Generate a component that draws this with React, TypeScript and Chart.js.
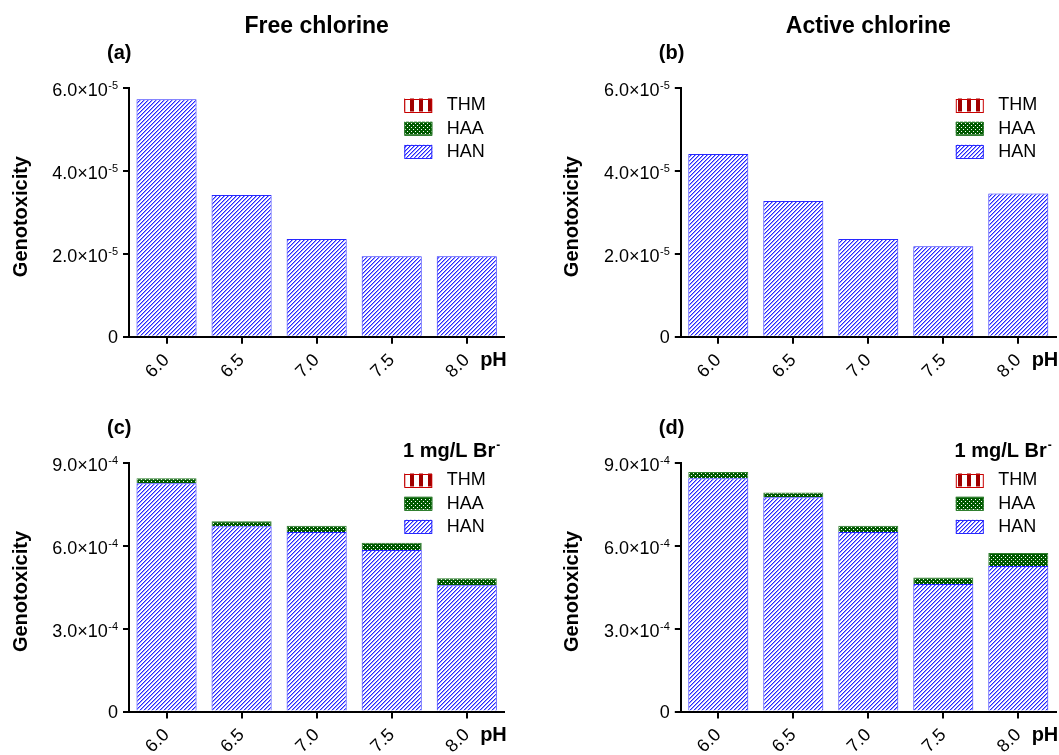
import React, { useEffect, useRef } from "react";
import { Chart, registerables } from "chart.js";
Chart.register(...registerables);

const FONT = "'Liberation Sans', Arial, Helvetica, sans-serif";
Chart.defaults.font.family = FONT;

// ---------- data ----------
const phLabels = ["6.0", "6.5", "7.0", "7.5", "8.0"];

const hanFree = [5.72e-5, 3.41e-5, 2.35e-5, 1.94e-5, 1.94e-5];
const haaFree = [0, 0, 0, 0, 0];
const thmFree = [0, 0, 0, 0, 0];

const hanActive = [4.4e-5, 3.27e-5, 2.35e-5, 2.18e-5, 3.45e-5];
const haaActive = [0, 0, 0, 0, 0];
const thmActive = [0, 0, 0, 0, 0];

const hanFreeBr = [8.25e-4, 6.7e-4, 6.49e-4, 5.84e-4, 4.56e-4];
const haaFreeBr = [0.18e-4, 0.18e-4, 0.22e-4, 0.26e-4, 0.26e-4];
const thmFreeBr = [0, 0, 0, 0, 0];

const hanActiveBr = [8.43e-4, 7.74e-4, 6.49e-4, 4.61e-4, 5.26e-4];
const haaActiveBr = [0.23e-4, 0.18e-4, 0.22e-4, 0.23e-4, 0.47e-4];
const thmActiveBr = [0, 0, 0, 0, 0];

const yTicksLow = [0, 2e-5, 4e-5, 6e-5];
const yTickLabelsLow = ["0", "2.0×10^-5", "4.0×10^-5", "6.0×10^-5"];
const yTicksHigh = [0, 3e-4, 6e-4, 9e-4];
const yTickLabelsHigh = ["0", "3.0×10^-4", "6.0×10^-4", "9.0×10^-4"];

const seriesNames = ["HAN", "HAA", "THM"];
const panelTitles = ["Free chlorine", "Active chlorine"];
const panelTags = ["(a)", "(b)", "(c)", "(d)"];
const bromideNote = "1 mg/L Br";
const xAxisTitle = "pH";
const yAxisTitle = "Genotoxicity";

// ---------- layout ----------
const YW = 60;
const XH = 43;

type PanelCfg = {
  left: number; top: number; w: number; h: number;
  area: { l: number; t: number; r: number; b: number };
  title: string | null; tag: string; note: boolean;
  han: number[]; haa: number[]; thm: number[];
  yMax: number; ticks: number[]; tickLabels: string[];
};

const panels: PanelCfg[] = [
  { left: 0, top: 0, w: 530, h: 400, area: { l: 129, t: 87.5, r: 504.3, b: 336.7 }, title: panelTitles[0], tag: panelTags[0], note: false, han: hanFree, haa: haaFree, thm: thmFree, yMax: 6e-5, ticks: yTicksLow, tickLabels: yTickLabelsLow },
  { left: 530, top: 0, w: 529, h: 400, area: { l: 680.8, t: 87.5, r: 1055.8, b: 336.7 }, title: panelTitles[1], tag: panelTags[1], note: false, han: hanActive, haa: haaActive, thm: thmActive, yMax: 6e-5, ticks: yTicksLow, tickLabels: yTickLabelsLow },
  { left: 0, top: 378, w: 530, h: 377, area: { l: 129, t: 462.5, r: 504.3, b: 711.5 }, title: null, tag: panelTags[2], note: true, han: hanFreeBr, haa: haaFreeBr, thm: thmFreeBr, yMax: 9e-4, ticks: yTicksHigh, tickLabels: yTickLabelsHigh },
  { left: 530, top: 378, w: 529, h: 377, area: { l: 680.8, t: 462.5, r: 1055.8, b: 711.5 }, title: null, tag: panelTags[3], note: true, han: hanActiveBr, haa: haaActiveBr, thm: thmActiveBr, yMax: 9e-4, ticks: yTicksHigh, tickLabels: yTickLabelsHigh },
];

// ---------- patterns ----------
function makeTile(w: number, h: number, draw: (g: CanvasRenderingContext2D) => void) {
  const c = document.createElement("canvas");
  c.width = w; c.height = h;
  draw(c.getContext("2d")!);
  return c;
}
function hanPattern(ctx: CanvasRenderingContext2D) {
  const t = makeTile(4, 4, (g) => {
    g.fillStyle = "#ffffff"; g.fillRect(0, 0, 4, 4);
    g.fillStyle = "#9a9aff";
    for (let i = 0; i < 4; i++) g.fillRect(i, (4 - i) % 4, 1, 1);
    g.fillStyle = "#2424ff";
    for (let i = 0; i < 4; i++) g.fillRect(i, 3 - i, 1, 1);
  });
  return ctx.createPattern(t, "repeat")!;
}
function haaPattern(ctx: CanvasRenderingContext2D) {
  const t = makeTile(4, 4, (g) => {
    g.fillStyle = "#005a00"; g.fillRect(0, 0, 4, 4);
    g.fillStyle = "#ffffff";
    g.fillRect(1, 1, 1, 1); g.fillRect(3, 3, 1, 1);
  });
  return ctx.createPattern(t, "repeat")!;
}
function thmPattern(ctx: CanvasRenderingContext2D) {
  const t = makeTile(9, 2, (g) => {
    g.fillStyle = "#ffffff"; g.fillRect(0, 0, 9, 2);
    g.fillStyle = "#a00000"; g.fillRect(5, 0, 4, 2);
  });
  return ctx.createPattern(t, "repeat")!;
}

function drawTickLabel(ctx: CanvasRenderingContext2D, label: string, xRight: number, py: number) {
  const [base, exp] = label.split("^");
  ctx.textAlign = "left";
  ctx.textBaseline = "alphabetic";
  ctx.fillStyle = "#000";
  ctx.font = `18px ${FONT}`;
  const wb = ctx.measureText(base).width;
  if (!exp) { ctx.fillText(base, xRight - wb, py + 6.5); return; }
  ctx.font = `11px ${FONT}`;
  const we = ctx.measureText(exp).width;
  const x0 = xRight - we - wb - 0.5;
  ctx.font = `18px ${FONT}`;
  ctx.fillText(base, x0, py + 8);
  ctx.font = `11px ${FONT}`;
  ctx.fillText(exp, x0 + wb + 0.5, py + 1.5);
}

function Panel({ cfg }: { cfg: PanelCfg }) {
  const ref = useRef<HTMLCanvasElement>(null);
  useEffect(() => {
    const canvas = ref.current!;
    const ctx = canvas.getContext("2d")!;
    const pats = [hanPattern(ctx), haaPattern(ctx), thmPattern(ctx)];
    const borders = ["#2828ff", "#2f7f2f", "#c80000"];
    const values = [cfg.han, cfg.haa, cfg.thm];

    const textPlugin = {
      id: "panelText",
      afterDraw(chart: any) {
        const c: CanvasRenderingContext2D = chart.ctx;
        const a = chart.chartArea;
        const ys = chart.scales.y;
        c.save();
        c.fillStyle = "#000";
        cfg.ticks.forEach((v, i) => drawTickLabel(c, cfg.tickLabels[i], a.left - 11, ys.getPixelForValue(v)));
        c.save();
        c.translate(a.left - 102.5, (a.top + a.bottom) / 2 + 4.5);
        c.rotate(-Math.PI / 2);
        c.font = `bold 20px ${FONT}`;
        c.textAlign = "center";
        c.textBaseline = "alphabetic";
        c.fillText(yAxisTitle, 0, 0);
        c.restore();
        c.font = `bold 20px ${FONT}`;
        c.textAlign = "right";
        c.textBaseline = "alphabetic";
        c.fillText(xAxisTitle, a.right + 2.5, a.bottom + 29);
        c.textAlign = "left";
        c.fillText(cfg.tag, a.left - 22, a.top - 28.5);
        if (cfg.title) {
          c.font = `bold 23px ${FONT}`;
          c.textAlign = "center";
          c.fillText(cfg.title, (a.left + a.right) / 2, a.top - 54.5);
        }
        if (cfg.note) {
          c.font = `bold 12px ${FONT}`;
          const ws = c.measureText("-").width;
          c.font = `bold 20px ${FONT}`;
          const wm = c.measureText(bromideNote).width;
          const xr = a.right - 4;
          c.textAlign = "left";
          c.fillText(bromideNote, xr - ws - wm - 1, a.top - 6);
          c.font = `bold 12px ${FONT}`;
          c.fillText("-", xr - ws, a.top - 14);
        }
        const rows = [17.5, 40.7, 63.8];
        [2, 1, 0].forEach((di, k) => {
          const cy = a.top + rows[k];
          const bx = a.right - 100;
          c.fillStyle = pats[di];
          c.fillRect(bx, cy - 6.5, 28, 13);
          c.strokeStyle = borders[di];
          c.lineWidth = 1;
          c.strokeRect(bx + 0.5, Math.round(cy - 6.5) + 0.5, 27, 13);
          c.fillStyle = "#000";
          c.font = `18px ${FONT}`;
          c.textAlign = "left";
          c.textBaseline = "middle";
          c.fillText(seriesNames[di], a.right - 57.5, cy + 0.5);
        });
        c.restore();
      },
    };

    const chart = new Chart(ctx, {
      type: "bar",
      data: {
        labels: phLabels,
        datasets: [0, 1, 2].map((i) => ({
          label: seriesNames[i],
          data: values[i],
          backgroundColor: pats[i],
          borderColor: borders[i],
          borderWidth: 1,
          barPercentage: 0.8,
          categoryPercentage: 1,
        })),
      },
      options: {
        responsive: false,
        animation: false,
        devicePixelRatio: 1,
        layout: {
          padding: {
            left: cfg.area.l - cfg.left - YW,
            top: cfg.area.t - cfg.top,
            right: cfg.left + cfg.w - cfg.area.r,
            bottom: cfg.top + cfg.h - cfg.area.b - XH,
          },
        },
        plugins: { legend: { display: false }, tooltip: { enabled: false }, title: { display: false } },
        scales: {
          x: {
            stacked: true,
            grid: { offset: false, drawOnChartArea: false, drawTicks: true, tickLength: 7, color: "#000", lineWidth: 2 },
            border: { display: true, color: "#000", width: 2 },
            ticks: { color: "#000", font: { size: 18, family: FONT }, minRotation: 45, maxRotation: 45, autoSkip: false, padding: 6 },
            afterFit: (s: any) => { s.height = XH; },
          },
          y: {
            stacked: true,
            min: 0,
            max: cfg.yMax,
            grid: { drawOnChartArea: false, drawTicks: true, tickLength: 6, color: "#000", lineWidth: 2 },
            border: { display: true, color: "#000", width: 2 },
            ticks: { display: false },
            afterBuildTicks: (s: any) => { s.ticks = cfg.ticks.map((v) => ({ value: v })); },
            afterFit: (s: any) => { s.width = YW; },
          },
        },
      } as any,
      plugins: [textPlugin],
    });
    return () => chart.destroy();
  }, []);
  return (
    <canvas
      ref={ref}
      width={cfg.w}
      height={cfg.h}
      style={{ position: "absolute", left: cfg.left, top: cfg.top, width: cfg.w, height: cfg.h }}
    />
  );
}

export default function App() {
  return (
    <div style={{ position: "absolute", left: 0, top: 0, width: 1059, height: 755, background: "#fff", overflow: "hidden" }}>
      {panels.map((p, i) => (
        <Panel key={i} cfg={p} />
      ))}
    </div>
  );
}
